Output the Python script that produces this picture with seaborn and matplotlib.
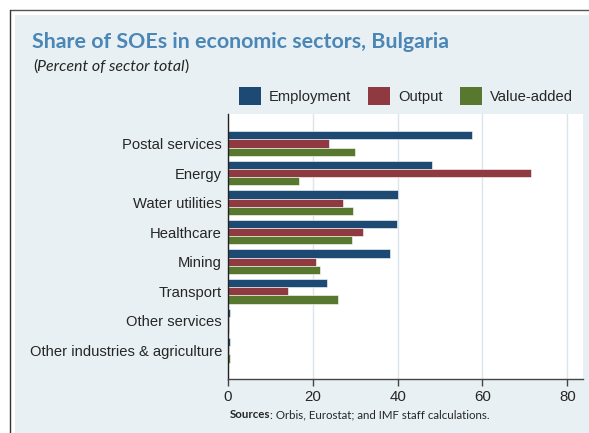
import matplotlib
matplotlib.use("Agg")
import matplotlib.pyplot as plt
import matplotlib.patches as mpatches
import matplotlib.lines as mlines
import pandas as pd
import seaborn as sns

sectors = [
    "Postal services",
    "Energy",
    "Water utilities",
    "Healthcare",
    "Mining",
    "Transport",
    "Other services",
    "Other industries & agriculture",
]
employment = [57.5, 48.1, 40.1, 39.9, 38.1, 23.3, 0.5, 0.4]
output = [23.8, 71.5, 27.0, 31.8, 20.8, 14.1, 0.2, 0.2]
value_added = [30.0, 16.7, 29.4, 29.3, 21.7, 26.0, 0.2, 0.4]
series_names = ["Employment", "Output", "Value-added"]
x_ticks = [0, 20, 40, 60, 80]

colors = ["#1d4a72", "#8f3a41", "#58772f"]
bg = "#e8f0f3"
grid_col = "#dbe5eb"

df = pd.DataFrame({
    "sector": sectors * 3,
    "value": employment + output + value_added,
    "series": [s for s in series_names for _ in sectors],
})

sns.set_style("white")
plt.rcParams["font.family"] = ["Liberation Sans", "DejaVu Sans"]

W, H = 589, 433
fig = plt.figure(figsize=(W / 100, H / 100), dpi=100)
fig.patch.set_facecolor("white")

# light panel with a dark frame on top and left
fig.patches.append(mpatches.Rectangle((15 / W, -0.1), 1, 1.1 - 15 / H,
                                      transform=fig.transFigure, facecolor=bg,
                                      edgecolor="none", zorder=-2))
fig.add_artist(mlines.Line2D([10 / W, 1], [1 - 10 / H, 1 - 10 / H],
                             transform=fig.transFigure, color="#555555", lw=1.0))
fig.add_artist(mlines.Line2D([10 / W, 10 / W], [0, 1 - 10 / H],
                             transform=fig.transFigure, color="#333333", lw=1.0))

ax = fig.add_axes([228 / W, 1 - 379 / H, (583 - 228) / W, (379 - 114) / H])
sns.barplot(data=df, y="sector", x="value", hue="series", order=sectors,
            hue_order=series_names, palette=colors, orient="h", width=0.83,
            saturation=1, edgecolor="white", linewidth=0.4, ax=ax, legend=False)

ax.set_facecolor("white")
ax.set_xlim(0, 83.7)
ax.set_ylim(7.97, -1.0)
ax.set_xticks(x_ticks)
ax.set_xlabel("")
ax.set_ylabel("")
ax.grid(axis="x", color=grid_col, lw=1.0)
ax.set_axisbelow(True)
for side in ["top", "right"]:
    ax.spines[side].set_visible(False)
ax.spines["left"].set_color("#222222")
ax.spines["left"].set_linewidth(1.0)
ax.spines["bottom"].set_color("#444444")
ax.spines["bottom"].set_linewidth(1.0)
ax.tick_params(axis="x", length=5, width=1, color="#444444", labelsize=10.8, pad=3,
               direction="out", bottom=True)
ax.tick_params(axis="y", length=0, labelsize=10.6, pad=4.3)

# legend
handles = [mpatches.Patch(facecolor=c, edgecolor="none") for c in colors]
fig.legend(handles, series_names, loc="center", bbox_to_anchor=(406 / W, 1 - 96 / H),
           ncol=3, frameon=False, fontsize=10.6, handlelength=1.5, handleheight=1.5,
           handletextpad=0.55, columnspacing=1.15, borderpad=0, borderaxespad=0)

# title and subtitle
fig.text(32 / W, 1 - 48 / H, "Share of SOEs in economic sectors, Bulgaria",
         fontsize=15.4, fontweight="bold", color="#4a86b6", va="baseline",
         family=["Lato", "DejaVu Sans"])
t1 = fig.text(33 / W, 1 - 67 / H, "(", fontsize=11.5, va="center",
              family=["Lato", "DejaVu Sans"])
t2 = ax.annotate("Percent of sector total", xy=(1, 0), xycoords=t1, va="bottom",
                 fontsize=11.5, style="italic", family=["Lato", "DejaVu Sans"])
ax.annotate(")", xy=(1, 0), xycoords=t2, va="bottom", fontsize=11.5,
            family=["Lato", "DejaVu Sans"])

# source note
s1 = fig.text(230 / W, 1 - 415 / H, "Sources", fontsize=8.3, fontweight="bold",
              va="center", family=["Lato", "DejaVu Sans"])
ax.annotate(": Orbis, Eurostat; and IMF staff calculations.", xy=(1, 0), xycoords=s1,
            va="bottom", fontsize=8.3, family=["Lato", "DejaVu Sans"])

fig.savefig("out.png", dpi=100, facecolor=fig.get_facecolor())
